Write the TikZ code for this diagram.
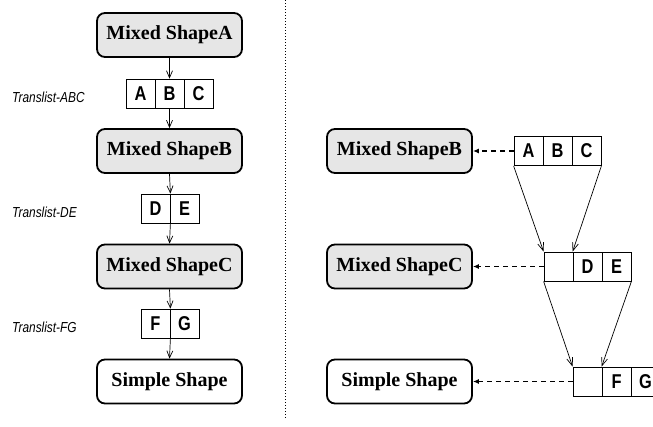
\documentclass[tikz,border=0pt]{standalone}
\usepackage{fontspec}
\setmainfont{Liberation Serif}
\newfontfamily\lblfont[FakeStretch=0.82]{Liberation Sans}
\newfontfamily\cellfont[FakeStretch=0.82]{Liberation Sans}
\usetikzlibrary{arrows.meta}
\definecolor{boxgray}{RGB}{230,230,230}
\tikzset{
  shapebox/.style={draw, line width=1.8bp, rounded corners=8bp, minimum width=145bp, minimum height=44bp, inner sep=0pt, font=\fontsize{20bp}{22bp}\selectfont\bfseries},
  mixed/.style={shapebox, fill=boxgray},
  simple/.style={shapebox, fill=white},
  cell/.style={draw, line width=0.8bp, minimum width=29bp, minimum height=29bp, inner sep=0pt, font=\cellfont\bfseries\fontsize{20bp}{22bp}\selectfont},
  tlabel/.style={anchor=west, inner sep=0pt, font=\lblfont\itshape\fontsize{14.5bp}{16bp}\selectfont},
  flow/.style={line width=0.7bp, -{Straight Barb[length=7bp,width=6bp]}},
  map/.style={line width=0.7bp, -{Straight Barb[length=8bp,width=6bp]}},
  link/.style={dash pattern=on 5bp off 4bp, line width=1.2bp, -{Latex[length=6bp,width=5bp]}},
  sep/.style={dash pattern=on 1bp off 2bp, line width=1bp},
}
\begin{document}
\begin{tikzpicture}[x=1bp, y=-1bp]
\useasboundingbox (0,0) rectangle (653,426);
% separator
\coordinate (top) at (285,0);
\coordinate (bot) at (285,418);
\draw[sep] (top) -- (bot);
% left column
\node[mixed] (A) at (169.5,35) {Mixed ShapeA};
\node[mixed] (B) at (169.5,151) {Mixed ShapeB};
\node[mixed] (C) at (169.5,266.5) {Mixed ShapeC};
\node[simple] (S) at (169.5,381.5) {Simple Shape};
\node[cell] (la) at (140.5,93.5) {A};
\node[cell] (lb) at (169.5,93.5) {B};
\node[cell] (lc) at (198.5,93.5) {C};
\node[cell] (ld) at (155.5,208.5) {D};
\node[cell] (le) at (184.5,208.5) {E};
\node[cell] (lf) at (155.5,323.5) {F};
\node[cell] (lg) at (184.5,323.5) {G};
\node[tlabel] (tabc) at (12,97) {Translist-ABC};
\node[tlabel] (tde) at (12,212) {Translist-DE};
\node[tlabel] (tfg) at (12,327) {Translist-FG};
\draw[flow] (A.south) -- (lb.north);
\draw[flow] (lb.south) -- (B.north);
\draw[flow] (B.south) -- (ld.north east);
\draw[flow] (ld.south east) -- (C.north);
\draw[flow] (C.south) -- (lf.north east);
\draw[flow] (lf.south east) -- (S.north);
% right column
\node[mixed] (B2) at (399.5,151) {Mixed ShapeB};
\node[mixed] (C2) at (399.5,266.5) {Mixed ShapeC};
\node[simple] (S2) at (399.5,381.5) {Simple Shape};
\node[cell] (ra) at (528.5,151) {A};
\node[cell] (rb) at (557.5,151) {B};
\node[cell] (rc) at (586.5,151) {C};
\node[cell] (rd0) at (558.5,266.5) {};
\node[cell] (rd) at (587.5,266.5) {D};
\node[cell] (re) at (616.5,266.5) {E};
\node[cell] (rf0) at (587.5,381.5) {};
\node[cell] (rf) at (616.5,381.5) {F};
\node[cell] (rg) at (645.5,381.5) {G};
\draw[link] (ra.west) -- (B2.east);
\draw[link] (rd0.west) -- (C2.east);
\draw[link] (rf0.west) -- (S2.east);
\draw[map] (ra.south west) -- (rd0.north west);
\draw[map] (rc.south east) -- (rd.north west);
\draw[map] (rd0.south west) -- (rf0.north west);
\draw[map] (re.south east) -- (rf.north west);
\end{tikzpicture}
\end{document}
